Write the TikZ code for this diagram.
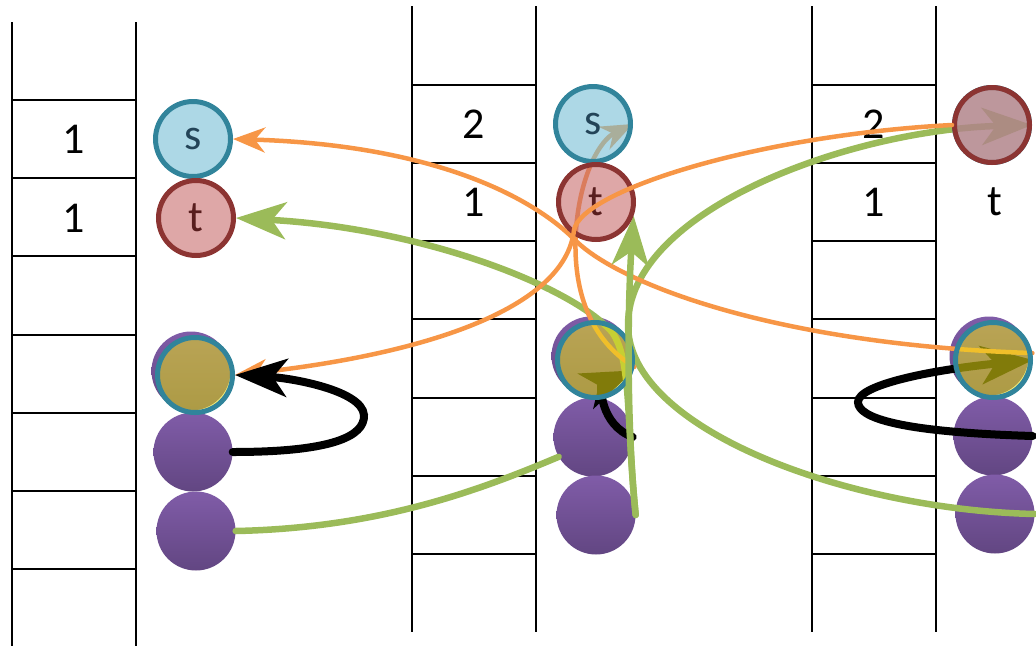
\documentclass[tikz,border=0pt]{standalone}
\usepackage{fontspec}
\setmainfont{Carlito}
\usetikzlibrary{arrows.meta}
\definecolor{sblue}{RGB}{118,190,213}
\definecolor{tred}{RGB}{200,108,108}
\definecolor{tealrim}{RGB}{49,132,155}
\definecolor{redrim}{RGB}{140,52,50}
\definecolor{sink}{RGB}{35,68,88}
\definecolor{tink}{RGB}{88,30,30}
\definecolor{glowc}{RGB}{235,225,20}
\definecolor{purpT}{RGB}{128,92,168}
\definecolor{purpB}{RGB}{98,70,130}
\definecolor{orangeln}{RGB}{247,150,70}
\definecolor{greenln}{RGB}{155,187,89}

\begin{document}
\begin{tikzpicture}[x=1pt,y=-1pt]
   \tikzstyle{rail}=[line width=2.6pt]
   \tikzstyle{rung}=[line width=2pt]
   \tikzstyle{slot}=[inner sep=0pt, font=\fontsize{44}{44}\selectfont]
   \tikzstyle{ball}=[circle, minimum size=79pt, inner sep=0pt, top color=purpT, bottom color=purpB]
   \tikzstyle{snode}=[circle, minimum size=75pt, inner sep=0pt, line width=5pt, draw=tealrim, fill=sblue, fill opacity=0.6, text opacity=1, text=sink, font=\fontsize{44}{44}\selectfont]
   \tikzstyle{tnode}=[snode, draw=redrim, fill=tred, text=tink]
   \tikzstyle{glow}=[circle, minimum size=75pt, inner sep=0pt, line width=5pt, draw=tealrim, fill=glowc, fill opacity=0.55]
   \tikzstyle{oline}=[draw=orangeln, line width=4.5pt, line cap=round, -{Stealth[length=32pt,width=25pt,inset=10pt]}]
   \tikzstyle{gline}=[draw=greenln, line width=6.5pt, line cap=round, -{Stealth[length=50pt,width=37pt,inset=14pt]}]
   \tikzstyle{kline}=[draw=black, line width=8pt, line cap=round, -{Stealth[length=52pt,width=38pt,inset=14pt]}]
   \useasboundingbox (0,0) rectangle (1036,646);

% the three stacks
\foreach \x/\ytop/\ybot/\yrow in {12/22/646/100, 412/6/632/84.7, 812/6/632/84.7} {
   \draw[rail] (\x,\ytop) -- (\x,\ybot) (\x+124,\ytop) -- (\x+124,\ybot);
   \foreach \k in {0,...,6}
      \draw[rung] (\x,\yrow+78.2*\k) -- (\x+124,\yrow+78.2*\k);
}
\node[slot] (n11) at (74,139) {1};
\node[slot] (n12) at (74,218) {1};
\node[slot] (n21) at (474,124) {2};
\node[slot] (n22) at (474,202) {1};
\node[slot] (n31) at (874,124) {2};
\node[slot] (n32) at (874,202) {1};
\node[slot] (lt3) at (995,202) {t};

% purple cells
\node[ball] (u1) at (191,371) {};
\node[ball] (m1) at (193,452) {};
\node[ball] (b1) at (196,531) {};
\node[ball] (u2) at (591,356) {};
\node[ball] (m2) at (593,437) {};
\node[ball] (b2) at (596,515) {};
\node[ball] (u3) at (989,356) {};
\node[ball] (m3) at (993,436) {};
\node[ball] (b3) at (995,514) {};

% overlays, placed now so the links can use them
\path (195,375) node[glow] (o1) {}
      (595,360) node[glow, draw=none, fill=none] (o2) {}
      (993,360) node[glow, draw=none, fill=none] (o3) {}
      (193,139) node[snode] (s1) {s}
      (196,218) node[tnode] (t1) {t}
      (593,124) coordinate (s2c)
      (596,202) coordinate (t2c)
      (992,125) coordinate (t3c);
\node[circle, minimum size=75pt, inner sep=0pt, line width=5pt] (s2) at (s2c) {};
\node[circle, minimum size=75pt, inner sep=0pt, line width=5pt] (t2) at (t2c) {};
\node[circle, minimum size=75pt, inner sep=0pt, line width=5pt] (t3) at (t3c) {};

% black loops
\draw[kline] (m2.east) .. controls (600,425) and (600,385) .. (o2.-15);
\draw[kline] (m3.east) .. controls (900,432) and (858,418) .. (858,402)
   .. controls (858,385) and (930,370) .. (o3.east);

% green links
\draw[gline, -] (b1.east) .. controls (380,528) and (480,490) .. (m2.-150);
\draw[gline] (b2.east) .. controls (626,420) and (632,360) .. (612,332)
   .. controls (570,285) and (420,228) .. (t1.east);
\draw[gline] (b3.east) .. controls (850,510) and (628,430) .. (628,325)
   .. controls (628,210) and (850,130) .. (t3.east);

% orange links
\draw[oline] (o3.10) .. controls (780,345) and (620,285) .. (575,240)
   .. controls (530,195) and (430,145) .. (s1.east);
\draw[oline] (o2.-10) .. controls (590,340) and (572,290) .. (576,230)
   .. controls (580,175) and (600,140) .. (s2.east);

% tinted cells over the links
\node[glow] at (o2) {};
\node[snode] at (s2) {s};
\draw[gline] (b2.east) .. controls (626,420) and (628,300) .. (t2.-20);
\node[tnode] at (t2) {t};
\node[snode, text opacity=0] at (t3) {};
\node[tnode, text opacity=0] at (t3) {};
\node[glow] at (o3) {};
\draw[oline] (t3.west) .. controls (760,135) and (582,190) .. (574,230)
   .. controls (565,310) and (420,355) .. (o1.east);
\draw[kline] (m1.east) .. controls (330,452) and (365,437) .. (364,415)
   .. controls (362,390) and (290,378) .. (o1.east);
\end{tikzpicture}
\end{document}
